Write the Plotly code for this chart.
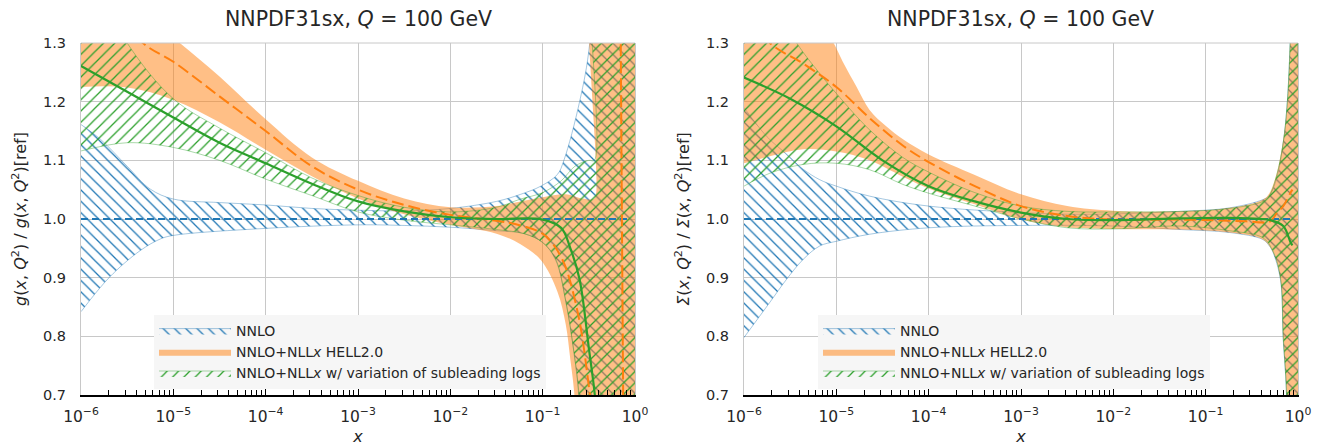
import numpy as np
import plotly.graph_objects as go

# ---------------- data (log10 x, ratio) ----------------
# Left panel: gluon
g_nnlo_up_lx = [-6, -5.79, -5.5, -5.25, -5, -4.5, -4, -3.5, -3, -2.5, -2, -1.5, -1.24, -1.02, -0.84, -0.77, -0.6, -0.49, -0.4, -0.08]
g_nnlo_up_y = [1.161, 1.136, 1.09, 1.051, 1.034, 1.028, 1.024, 1.018, 1.015, 1.014, 1.018, 1.03, 1.042, 1.056, 1.076, 1.1, 1.2, 1.3, 1.6, 1.6]
g_nnlo_lo_lx = [-6, -5.69, -5.36, -5.14, -5, -4, -3, -2.5, -2, -1.5, -1.2, -1, -0.86, -0.75, -0.65, -0.6, -0.5, -0.08]
g_nnlo_lo_y = [0.842, 0.901, 0.946, 0.966, 0.972, 0.984, 0.99, 0.989, 0.986, 0.98, 0.975, 0.96, 0.93, 0.86, 0.76, 0.68, 0.4, 0.4]

g_hell_up_lx = [-6, -5.4, -4.93, -4.5, -4, -3.5, -3, -2.5, -2, -1.5, -1.24, -1, -0.75, -0.6, -0.45, -0.425, -0.42, -0.08]
g_hell_up_y = [1.45, 1.36, 1.3, 1.243, 1.17, 1.105, 1.065, 1.035, 1.02, 1.022, 1.03, 1.037, 1.042, 1.036, 1.034, 1.04, 1.6, 1.6]
g_hell_lo_lx = [-6, -5.5, -5, -4.5, -4, -3.5, -3, -2.5, -2, -1.5, -1.24, -1.02, -0.84, -0.75, -0.7, -0.66, -0.6, -0.5, -0.08]
g_hell_lo_y = [1.225, 1.224, 1.203, 1.165, 1.118, 1.073, 1.035, 1.008, 0.99, 0.975, 0.957, 0.93, 0.876, 0.82, 0.76, 0.707, 0.55, 0.3, 0.3]

g_var_up_lx = [-6, -5.5, -5, -4.5, -4, -3.5, -3, -2.5, -2, -1.5, -1.24, -1, -0.8, -0.65, -0.5, -0.44, -0.42, -0.08]
g_var_up_y = [1.45, 1.3, 1.205, 1.155, 1.113, 1.07, 1.04, 1.02, 1.012, 1.02, 1.034, 1.045, 1.065, 1.09, 1.1, 1.1, 1.6, 1.6]
g_var_lo_lx = [-6, -5.5, -5, -4.5, -4, -3.5, -3, -2.5, -2, -1.5, -1.2, -1, -0.86, -0.75, -0.65, -0.61, -0.5, -0.08]
g_var_lo_y = [1.116, 1.13, 1.122, 1.1, 1.068, 1.04, 1.012, 0.998, 0.99, 0.982, 0.975, 0.96, 0.932, 0.86, 0.76, 0.707, 0.4, 0.4]

g_nnlo_c_lx = [-6, -0.08]
g_nnlo_c_y = [1.0, 1.0]
g_hell_c_lx = [-6, -5.33, -5, -4.5, -4, -3.5, -3, -2.5, -2, -1.5, -1.24, -1, -0.877, -0.8, -0.733, -0.6, -0.5, -0.45, -0.3, -0.11, -0.1, -0.08]
g_hell_c_y = [1.42, 1.3, 1.268, 1.209, 1.15, 1.09, 1.05, 1.024, 1.007, 0.997, 0.989, 0.975, 0.955, 0.935, 0.91, 0.825, 0.715, 0.65, 0.3, -0.5, 3.0, 3.0]
g_var_c_lx = [-6, -5.5, -5, -4.5, -4, -3.5, -3, -2.5, -2, -1.5, -1, -0.8, -0.7, -0.6, -0.5, -0.44, -0.35, -0.3]
g_var_c_y = [1.261, 1.217, 1.173, 1.13, 1.095, 1.06, 1.03, 1.013, 1.003, 1.0, 0.999, 0.985, 0.95, 0.897, 0.78, 0.707, 0.55, 0.4]

# Right panel: singlet
s_nnlo_up_lx = [-6, -5.75, -5.55, -5.36, -5.18, -5.0, -4.64, -4.0, -3.0, -2.32, -1.27, -0.74, -0.38, -0.31, -0.23, -0.16, -0.12, -0.085, -0.05]
s_nnlo_up_y = [1.19, 1.14, 1.112, 1.085, 1.067, 1.056, 1.039, 1.022, 1.011, 1.008, 1.013, 1.019, 1.033, 1.04, 1.07, 1.13, 1.19, 1.3, 1.6]
s_nnlo_lo_lx = [-6, -5.72, -5.54, -5.36, -5.18, -5.0, -4.64, -4.0, -3.0, -2.0, -1.27, -0.74, -0.38, -0.31, -0.27, -0.19, -0.16, -0.125, -0.1, -0.05]
s_nnlo_lo_y = [0.798, 0.858, 0.897, 0.931, 0.954, 0.962, 0.974, 0.985, 0.989, 0.988, 0.982, 0.977, 0.965, 0.954, 0.943, 0.897, 0.795, 0.705, 0.4, 0.4]

s_hell_up_lx = [-6, -5.5, -5.03, -4.92, -4.78, -4.64, -4.46, -4.27, -4.0, -3.5, -3.0, -2.5, -2.0, -1.27, -0.74, -0.38, -0.31, -0.23, -0.16, -0.12, -0.085, -0.05]
s_hell_up_y = [1.5, 1.42, 1.3, 1.265, 1.225, 1.186, 1.158, 1.135, 1.11, 1.075, 1.042, 1.022, 1.014, 1.013, 1.019, 1.033, 1.044, 1.078, 1.135, 1.19, 1.305, 1.6]
s_hell_lo_lx = [-6, -5.72, -5.36, -5.0, -4.64, -4.28, -4.0, -3.5, -3.0, -2.5, -2.0, -1.27, -0.74, -0.38, -0.27, -0.19, -0.16, -0.125, -0.1, -0.05]
s_hell_lo_y = [1.095, 1.107, 1.119, 1.115, 1.1, 1.072, 1.052, 1.025, 0.999, 0.986, 0.983, 0.982, 0.977, 0.965, 0.943, 0.897, 0.795, 0.705, 0.3, 0.3]

s_var_up_lx = [-6, -5.43, -5.18, -5.0, -4.64, -4.28, -4.0, -3.5, -3.0, -2.5, -2.0, -1.27, -0.74, -0.38, -0.31, -0.23, -0.16, -0.12, -0.085, -0.05]
s_var_up_y = [1.45, 1.3, 1.248, 1.214, 1.152, 1.105, 1.08, 1.045, 1.022, 1.013, 1.012, 1.013, 1.018, 1.03, 1.04, 1.075, 1.13, 1.19, 1.3, 1.6]
s_var_lo_lx = [-6, -5.72, -5.36, -5.0, -4.64, -4.28, -4.0, -3.5, -3.0, -2.5, -2.0, -1.27, -0.74, -0.38, -0.27, -0.19, -0.16, -0.125, -0.1, -0.05]
s_var_lo_y = [1.056, 1.078, 1.093, 1.095, 1.084, 1.059, 1.044, 1.022, 1.0, 0.985, 0.983, 0.988, 0.98, 0.968, 0.945, 0.9, 0.8, 0.705, 0.4, 0.4]

s_nnlo_c_lx = [-6, -0.05]
s_nnlo_c_y = [1.0, 1.0]
s_hell_c_lx = [-6, -5.72, -5.36, -5.0, -4.64, -4.27, -4.0, -3.5, -3.0, -2.5, -2.0, -1.28, -0.56, -0.38, -0.3, -0.23, -0.16, -0.08, -0.06]
s_hell_c_y = [1.36, 1.3, 1.265, 1.225, 1.172, 1.124, 1.097, 1.056, 1.022, 1.005, 0.999, 0.999, 0.996, 0.994, 0.996, 1.01, 1.022, 1.045, 1.05]
s_var_c_lx = [-6, -5.5, -5, -4.5, -4, -3.5, -3, -2.5, -2, -1.27, -0.74, -0.4, -0.3, -0.16, -0.08, -0.06]
s_var_c_y = [1.241, 1.205, 1.158, 1.10, 1.056, 1.03, 1.011, 1.0, 0.998, 1.001, 1.002, 1.0, 0.998, 0.988, 0.96, 0.955]

names = ["NNLO", "NNLO+NLL<i>x</i> HELL2.0", "NNLO+NLL<i>x</i> w/ variation of subleading logs"]
titles = ["NNPDF31sx, <i>Q</i> = 100 GeV", "NNPDF31sx, <i>Q</i> = 100 GeV"]
ylabels = ["<i>g</i>(<i>x</i>, <i>Q</i><sup>2</sup>) / <i>g</i>(<i>x</i>, <i>Q</i><sup>2</sup>)[ref]",
           "<i>Σ</i>(<i>x</i>, <i>Q</i><sup>2</sup>) / <i>Σ</i>(<i>x</i>, <i>Q</i><sup>2</sup>)[ref]"]
xlabel = "<i>x</i>"
x_tick_exp = [-6, -5, -4, -3, -2, -1, 0]
x_tick_text = ["10<sup>−6</sup>", "10<sup>−5</sup>", "10<sup>−4</sup>", "10<sup>−3</sup>", "10<sup>−2</sup>", "10<sup>−1</sup>", "10<sup>0</sup>"]
y_ticks = [0.7, 0.8, 0.9, 1.0, 1.1, 1.2, 1.3]

BLUE, ORANGE, GREEN = "#1f77b4", "#ff7f0e", "#2ca02c"
FONT = "DejaVu Sans"
TXT = "#262626"

# page body has an 8px margin: figure is sized to fill the rest of the window
OFF = 8
W, H = 1323 - OFF, 446 - OFF

panels = [
    dict(up=[(g_nnlo_up_lx, g_nnlo_up_y), (g_hell_up_lx, g_hell_up_y), (g_var_up_lx, g_var_up_y)],
         lo=[(g_nnlo_lo_lx, g_nnlo_lo_y), (g_hell_lo_lx, g_hell_lo_y), (g_var_lo_lx, g_var_lo_y)],
         c=[(g_nnlo_c_lx, g_nnlo_c_y), (g_hell_c_lx, g_hell_c_y), (g_var_c_lx, g_var_c_y)]),
    dict(up=[(s_nnlo_up_lx, s_nnlo_up_y), (s_hell_up_lx, s_hell_up_y), (s_var_up_lx, s_var_up_y)],
         lo=[(s_nnlo_lo_lx, s_nnlo_lo_y), (s_hell_lo_lx, s_hell_lo_y), (s_var_lo_lx, s_var_lo_y)],
         c=[(s_nnlo_c_lx, s_nnlo_c_y), (s_hell_c_lx, s_hell_c_y), (s_var_c_lx, s_var_c_y)]),
]

fig = go.Figure()

band_style = [
    dict(fillcolor="rgba(0,0,0,0)", line=dict(color="rgba(31,119,180,0.45)", width=0.9),
         fillpattern=dict(shape="\\", size=8, solidity=0.16, fgcolor=BLUE, bgcolor="rgba(0,0,0,0)", fillmode="replace")),
    dict(fillcolor="rgba(255,127,14,0.5)", line=dict(width=0)),
    dict(fillcolor="rgba(0,0,0,0)", line=dict(color="rgba(44,160,44,0.45)", width=0.9),
         fillpattern=dict(shape="/", size=8, solidity=0.16, fgcolor=GREEN, bgcolor="rgba(0,0,0,0)", fillmode="replace")),
]
line_style = [
    dict(color=BLUE, width=1.8, dash="7px,4px"),
    dict(color=ORANGE, width=2, dash="12px,5px"),
    dict(color=GREEN, width=2.2),
]

for p, panel in enumerate(panels):
    xa = "x" if p == 0 else "x2"
    ya = "y" if p == 0 else "y2"
    lg = "legend" if p == 0 else "legend2"
    for k in range(3):
        ulx, uy = panel["up"][k]
        llx, ly = panel["lo"][k]
        xs = list(10 ** np.array(ulx)) + list(10 ** np.array(llx))[::-1]
        ys = list(uy) + list(ly)[::-1]
        fig.add_trace(go.Scatter(x=xs, y=ys, fill="toself", mode="lines", name=names[k],
                                 line_shape="spline", xaxis=xa, yaxis=ya, legend=lg,
                                 hoverinfo="skip", **band_style[k]))
    for k in range(3):
        clx, cy = panel["c"][k]
        fig.add_trace(go.Scatter(x=10 ** np.array(clx), y=cy, mode="lines", line=line_style[k],
                                 line_shape="spline" if k else "linear", xaxis=xa, yaxis=ya,
                                 showlegend=False, hoverinfo="skip"))

# plot areas in window pixels
px_left = [(81, 635), (744, 1298)]
top_px, bot_px = 43, 395
doms = [[(a - OFF) / W, (b - OFF) / W] for a, b in px_left]
plot_h = bot_px - top_px

axis_common_x = dict(type="log", range=[-6, 0], tickvals=[10.0 ** e for e in x_tick_exp], ticktext=x_tick_text,
                     showgrid=True, gridcolor="#c8c8c8", gridwidth=1, automargin=False,
                     ticks="inside", ticklen=10, tickwidth=1.3, tickcolor="black",
                     minor=dict(ticks="inside", ticklen=5, tickwidth=1.1, tickcolor="black", showgrid=False, dtick="D1"),
                     showline=True, linecolor="black", linewidth=2, zeroline=False,
                     tickfont=dict(family=FONT, size=15.5, color=TXT), ticklabelstandoff=6,
                     title=dict(text=xlabel, font=dict(family=FONT, size=16, color=TXT), standoff=6))
axis_common_y = dict(range=[0.7, 1.3], tickvals=y_ticks, tickformat=".1f", showgrid=True, gridcolor="#c8c8c8",
                     gridwidth=1, ticks="", showline=True, linecolor="#c8c8c8", linewidth=1, mirror=True,
                     zeroline=False, automargin=False, tickfont=dict(family=FONT, size=14.5, color=TXT), ticklabelstandoff=11)

fig.update_layout(
    width=W, height=H, plot_bgcolor="white", paper_bgcolor="white",
    margin=dict(l=0, r=0, t=top_px - OFF, b=H - (bot_px - OFF), autoexpand=False),
    xaxis=dict(domain=doms[0], anchor="y", **axis_common_x),
    xaxis2=dict(domain=doms[1], anchor="y2", **axis_common_x),
    yaxis=dict(anchor="x", title=dict(text=ylabels[0], font=dict(family=FONT, size=16, color=TXT), standoff=12), **axis_common_y),
    yaxis2=dict(anchor="x2", title=dict(text=ylabels[1], font=dict(family=FONT, size=16, color=TXT), standoff=12), **axis_common_y),
    font=dict(family=FONT, color=TXT),
)
for i, lg in enumerate(["legend", "legend2"]):
    fig.update_layout({lg: dict(x=([154, 818][i] - OFF) / W, y=(bot_px - 315) / plot_h, xanchor="left", yanchor="top",
                                bgcolor="#f6f6f6", borderwidth=0, itemwidth=72, tracegroupgap=0,
                                font=dict(family=FONT, size=14, color=TXT))})

for i in range(2):
    fig.add_annotation(text=titles[i], x=(doms[i][0] + doms[i][1]) / 2, y=1 + 24 / plot_h, xref="paper", yref="paper",
                       showarrow=False, font=dict(family=FONT, size=20.5, color=TXT), xanchor="center", yanchor="middle")
    fig.add_shape(type="line", xref=f"x{'' if i == 0 else 2} domain", yref=f"y{'' if i == 0 else 2} domain",
                  x0=0, x1=1, y0=1, y1=1, line=dict(color="#c8c8c8", width=1))

fig.write_html("out.html")
